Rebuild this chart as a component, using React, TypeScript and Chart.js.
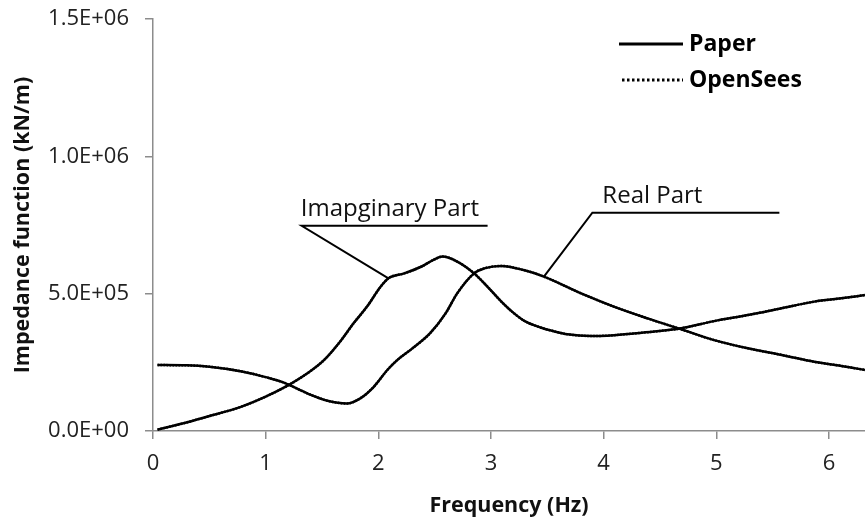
import React, { useEffect, useRef } from 'react';
import { Chart, registerables } from 'chart.js';

Chart.register(...registerables);

// Frequency (Hz) and impedance (kN/m)
const realFreq = [0.04, 0.3, 0.5, 0.8, 1.0, 1.15, 1.37, 1.55, 1.72, 1.84, 1.96, 2.08, 2.17, 2.3, 2.46, 2.6, 2.7, 2.85, 2.94, 3.09, 3.29, 3.47, 3.8, 4.09, 4.39, 4.69, 4.98, 5.28, 5.58, 5.87, 6.11, 6.32];
const realValues = [240000, 239000, 234000, 216000, 196000, 178000, 137000, 110000, 100000, 119000, 161000, 222000, 259000, 300000, 356000, 430000, 501000, 574000, 592000, 601000, 586000, 562000, 501000, 453000, 410000, 370000, 331000, 301000, 277000, 252000, 237000, 222000];

const imagFreq = [0.04, 0.27, 0.48, 0.78, 1.0, 1.19, 1.37, 1.52, 1.66, 1.78, 1.9, 2.02, 2.09, 2.23, 2.38, 2.49, 2.57, 2.7, 2.85, 2.97, 3.09, 3.2, 3.3, 3.44, 3.55, 3.68, 3.89, 4.03, 4.24, 4.45, 4.69, 4.98, 5.28, 5.58, 5.87, 6.11, 6.32];
const imagValues = [5000, 28000, 52000, 88000, 125000, 164000, 210000, 259000, 325000, 392000, 453000, 525000, 556000, 574000, 598000, 623000, 635000, 617000, 574000, 525000, 472000, 430000, 400000, 377000, 364000, 352000, 346000, 347000, 354000, 362000, 374000, 400000, 422000, 447000, 471000, 483000, 495000];

const xTicks = [0, 1, 2, 3, 4, 5, 6];
const yTicks = [0, 500000, 1000000, 1500000];
const seriesNames = ['Paper', 'OpenSees'];
const xTitle = 'Frequency (Hz)';
const yTitle = 'Impedance function (kN/m)';

// Callout labels: text, anchor point on the curve, underline in data units
const calloutText = ['Imapginary Part', 'Real Part'];
const calloutAnchorF = [2.09, 3.47];
const calloutAnchorV = [556000, 562000];
const calloutLineF0 = [1.32, 3.9];
const calloutLineF1 = [2.97, 5.56];
const calloutLineV = [747000, 795000];

const FONT = '"Open Sans", "DejaVu Sans", sans-serif';
const AXIS_GRAY = '#8c8c8c';

function sci(v: number): string {
  if (v === 0) return '0.0E+00';
  const e = Math.floor(Math.log10(Math.abs(v)) + 1e-9);
  const m = v / Math.pow(10, e);
  return m.toFixed(1) + 'E+' + String(e).padStart(2, '0');
}

const pts = (fs: number[], vs: number[]) => fs.map((f, i) => ({ x: f, y: vs[i] }));

const calloutPlugin = {
  id: 'callouts',
  afterDatasetsDraw(chart: any) {
    const { ctx, scales } = chart;
    const xs = scales.x, ys = scales.y;
    ctx.save();
    ctx.strokeStyle = '#000';
    ctx.fillStyle = '#111';
    ctx.lineWidth = 2;
    ctx.font = `24px ${FONT}`;
    ctx.textBaseline = 'alphabetic';
    ctx.textAlign = 'left';
    calloutText.forEach((t, i) => {
      const x0 = xs.getPixelForValue(calloutLineF0[i]);
      const x1 = xs.getPixelForValue(calloutLineF1[i]);
      const y = ys.getPixelForValue(calloutLineV[i]);
      const ax = xs.getPixelForValue(calloutAnchorF[i]);
      const ay = ys.getPixelForValue(calloutAnchorV[i]);
      ctx.beginPath();
      ctx.moveTo(x1, y);
      ctx.lineTo(x0, y);
      ctx.lineTo(ax, ay);
      ctx.stroke();
      ctx.fillText(t, i === 0 ? x0 - 1 : x0 + 10, y - 10);
    });
    ctx.restore();
  },
};

const legendPlugin = {
  id: 'customLegend',
  afterDraw(chart: any) {
    const { ctx } = chart;
    ctx.save();
    ctx.strokeStyle = '#000';
    ctx.fillStyle = '#000';
    ctx.lineWidth = 3;
    ctx.font = `bold 23px ${FONT}`;
    ctx.textBaseline = 'middle';
    ctx.textAlign = 'left';
    const rows = [44, 80];
    seriesNames.forEach((name, i) => {
      const y = rows[i];
      ctx.beginPath();
      ctx.setLineDash(i === 0 ? [] : [2.5, 2.5]);
      ctx.moveTo(i === 0 ? 619 : 622, y);
      ctx.lineTo(683, y);
      ctx.stroke();
      ctx.setLineDash([]);
      ctx.fillText(name, 689, y);
    });
    ctx.restore();
  },
};

export default function App() {
  const ref = useRef<HTMLCanvasElement | null>(null);

  useEffect(() => {
    if (!ref.current) return;
    const line = (label: string, data: any, dash: number[]) => ({
      label,
      data,
      borderColor: '#000',
      backgroundColor: '#000',
      borderWidth: 2.5,
      borderDash: dash,
      pointRadius: 0,
      tension: 0,
      cubicInterpolationMode: 'monotone' as const,
      fill: false,
    });
    const chart = new Chart(ref.current, {
      type: 'line',
      data: {
        datasets: [
          line(seriesNames[0] + ' real', pts(realFreq, realValues), []),
          line(seriesNames[0] + ' imaginary', pts(imagFreq, imagValues), []),
          line(seriesNames[1] + ' real', pts(realFreq, realValues), [1.5, 1.5]),
          line(seriesNames[1] + ' imaginary', pts(imagFreq, imagValues), [1.5, 1.5]),
        ],
      },
      options: {
        animation: false,
        responsive: false,
        maintainAspectRatio: false,
        layout: { padding: { top: 19, left: 0, right: 0, bottom: 0 } },
        plugins: { legend: { display: false }, tooltip: { enabled: false } },
        scales: {
          x: {
            type: 'linear',
            min: 0,
            max: 6.32,
            afterBuildTicks: (s: any) => { s.ticks = xTicks.map((v) => ({ value: v })); },
            afterFit: (s: any) => { s.height = 86; s.paddingLeft = 0; s.paddingRight = 0; },
            ticks: { color: '#222', font: { family: FONT, size: 22 }, padding: 12 },
            grid: { drawOnChartArea: false, drawTicks: true, tickLength: 8, color: AXIS_GRAY, lineWidth: 1.5 },
            border: { color: AXIS_GRAY, width: 1.5 },
            title: { display: true, text: xTitle, color: '#111', font: { family: FONT, size: 21.5, weight: 'bold' }, padding: { top: 0, bottom: -2 } },
          },
          y: {
            type: 'linear',
            min: 0,
            max: 1500000,
            afterBuildTicks: (s: any) => { s.ticks = yTicks.map((v) => ({ value: v })); },
            afterFit: (s: any) => { s.width = 153; s.paddingTop = 0; s.paddingBottom = 0; },
            ticks: { color: '#222', font: { family: FONT, size: 22 }, padding: 16, callback: (v: any) => sci(Number(v)) },
            grid: { drawOnChartArea: false, drawTicks: true, tickLength: 8, color: AXIS_GRAY, lineWidth: 1.5 },
            border: { color: AXIS_GRAY, width: 1.5 },
            title: { display: true, text: yTitle, color: '#111', font: { family: FONT, size: 21.5, weight: 'bold' }, padding: { top: 10, bottom: 0 } },
          },
        },
      },
      plugins: [calloutPlugin, legendPlugin],
    });
    return () => chart.destroy();
  }, []);

  return (
    <div style={{ position: 'absolute', left: 0, top: 0, width: 865, height: 517, background: '#fff' }}>
      <canvas ref={ref} width={865} height={517} style={{ display: 'block', width: 865, height: 517 }} />
    </div>
  );
}
